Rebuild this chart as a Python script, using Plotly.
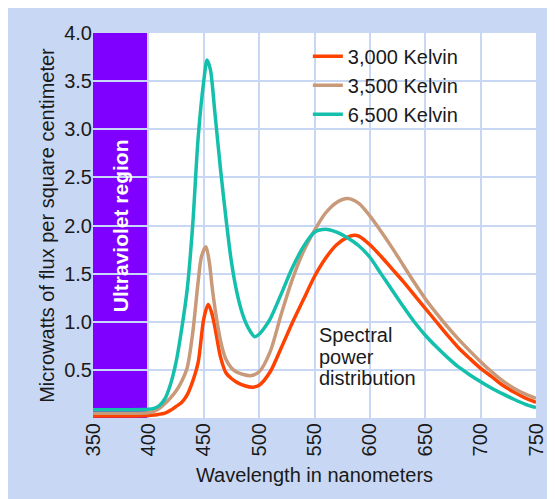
import plotly.graph_objects as go

# ---- data ----
wl_3000 = [350, 380, 400, 405, 410, 415, 420, 425, 430, 435, 440, 445, 450, 454, 457, 460,
           465, 470, 475, 480, 487, 494, 500, 510, 520, 530, 540, 550, 560, 570, 580, 586,
           590, 600, 610, 620, 630, 640, 650, 660, 670, 680, 690, 700, 710, 720, 730, 740, 750]
k3000 = [0.02, 0.02, 0.025, 0.03, 0.04, 0.05, 0.08, 0.12, 0.16, 0.24, 0.38, 0.58, 1.03,
         1.18, 1.10, 0.95, 0.64, 0.47, 0.41, 0.37, 0.335, 0.32, 0.34, 0.48, 0.73, 0.99, 1.23,
         1.47, 1.66, 1.80, 1.88, 1.90, 1.89, 1.80, 1.68, 1.55, 1.42, 1.28, 1.14, 1.00, 0.86,
         0.73, 0.62, 0.516, 0.43, 0.34, 0.27, 0.21, 0.163]

wl_3500 = [350, 380, 400, 405, 410, 415, 420, 425, 430, 435, 440, 445, 448, 452, 455, 458, 462,
           466, 470, 475, 480, 485, 492, 500, 510, 520, 530, 540, 550, 560, 570, 580, 590,
           600, 610, 620, 630, 640, 650, 660, 670, 680, 690, 700, 710, 720, 730, 740, 750]
k3500 = [0.05, 0.05, 0.055, 0.07, 0.10, 0.15, 0.21, 0.28, 0.38, 0.52, 0.88, 1.42, 1.68, 1.78,
         1.62, 1.32, 1.00, 0.76, 0.61, 0.52, 0.475, 0.455, 0.44, 0.48, 0.69, 1.08, 1.44, 1.73,
         1.95, 2.13, 2.24, 2.28, 2.23, 2.10, 1.94, 1.77, 1.59, 1.41, 1.24, 1.09, 0.95, 0.82,
         0.70, 0.585, 0.48, 0.385, 0.31, 0.25, 0.205]

wl_6500 = [350, 380, 400, 405, 410, 415, 420, 425, 430, 435, 440, 445, 450, 453, 456, 460, 465,
           470, 475, 480, 485, 490, 496, 500, 505, 510, 520, 530, 540, 550, 560, 570, 580,
           590, 600, 610, 620, 630, 640, 650, 660, 670, 680, 690, 700, 710, 720, 730, 740, 750]
k6500 = [0.085, 0.085, 0.09, 0.10, 0.13, 0.20, 0.35, 0.58, 0.92, 1.33, 2.00, 2.92, 3.50, 3.72,
         3.62, 3.18, 2.60, 2.08, 1.62, 1.30, 1.08, 0.94, 0.845, 0.87, 0.94, 1.03, 1.29, 1.56,
         1.78, 1.93, 1.96, 1.93, 1.87, 1.79, 1.67, 1.50, 1.33, 1.16, 1.00, 0.86, 0.74, 0.63,
         0.53, 0.45, 0.377, 0.31, 0.25, 0.195, 0.145, 0.107]

series_names = ["3,000 Kelvin", "3,500 Kelvin", "6,500 Kelvin"]
series_x = [wl_3000, wl_3500, wl_6500]
series_values = [k3000, k3500, k6500]
series_colors = ["#ff4200", "#c89a7a", "#14bfab"]

uv_region = [350, 400]
uv_label = "Ultraviolet region"
x_ticks = [350, 400, 450, 500, 550, 600, 650, 700, 750]
y_ticks = [0.5, 1.0, 1.5, 2.0, 2.5, 3.0, 3.5, 4.0]
note_lines = ["Spectral", "power", "distribution"]

FONT = "Liberation Sans, Arial, sans-serif"
BG = "#c8d8f4"
GRID = "#c8d8f4"
TXT = "#1a1a1a"

fig = go.Figure()
for name, xs, vals, col in zip(series_names, series_x, series_values, series_colors):
    fig.add_trace(go.Scatter(
        x=xs, y=vals, name=name, mode="lines",
        line=dict(color=col, width=3.5, shape="spline", smoothing=0.8),
    ))

# ultraviolet region
fig.add_shape(type="rect", xref="x", yref="y", x0=uv_region[0], x1=uv_region[1],
              y0=0, y1=4.0, fillcolor="#7f00ff", line=dict(width=0), layer="below")
fig.add_annotation(x=(uv_region[0] + uv_region[1]) / 2, y=2.0, xref="x", yref="y",
                   text=uv_label, textangle=-90, showarrow=False,
                   font=dict(family=FONT, size=21, color="white", weight="bold"))

# note
note_y = [0.862, 0.634, 0.416]
for t, yy in zip(note_lines, note_y):
    fig.add_annotation(x=552.5, y=yy, xref="x", yref="y", text=t, showarrow=False,
                       xanchor="left", yanchor="middle",
                       font=dict(family=FONT, size=20, color=TXT))

fig.update_layout(
    width=547, height=491,
    margin=dict(l=85, r=19, t=25, b=81, autoexpand=False),
    paper_bgcolor=BG, plot_bgcolor="white",
    font=dict(family=FONT, size=20, color=TXT),
    showlegend=True,
    legend=dict(x=0.485, y=0.99, xanchor="left", yanchor="top",
                bgcolor="rgba(0,0,0,0)", font=dict(family=FONT, size=20, color=TXT),
                tracegroupgap=0),
    xaxis=dict(range=[350, 750], tickvals=x_ticks, tickangle=-90, automargin=False,
               showgrid=True, gridcolor=GRID, gridwidth=2, zeroline=False,
               showline=False, ticks="",
               title=dict(text="Wavelength in nanometers", standoff=12,
                          font=dict(family=FONT, size=20, color=TXT))),
    yaxis=dict(range=[0, 4.0], tickvals=y_ticks, tickformat=".1f", automargin=False,
               showgrid=True, gridcolor=GRID, gridwidth=2, zeroline=False,
               showline=False, ticks="",
               title=dict(text="Microwatts of flux per square centimeter", standoff=4,
                          font=dict(family=FONT, size=20, color=TXT))),
)

fig.write_html("out.html")
